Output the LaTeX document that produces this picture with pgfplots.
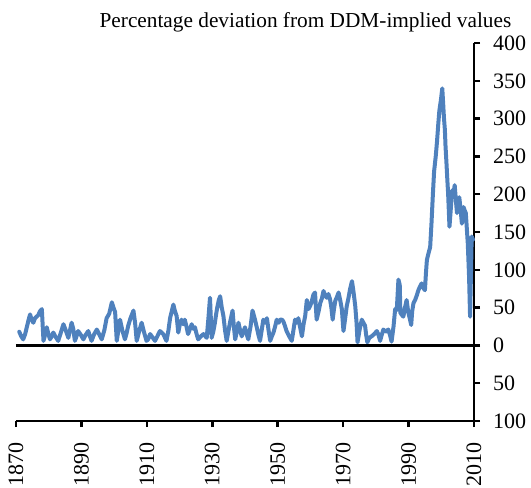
\documentclass[border=0pt]{standalone}
\usepackage{pgfplots}
\pgfplotsset{compat=1.18}
\usepackage{fontspec}
\setmainfont{Liberation Serif}
\definecolor{xlblue}{RGB}{79,129,189}
\pgfplotstableread{
year val
1871.0 18
1871.6 12
1872.2 8
1872.8 15
1873.3 24
1873.8 33
1874.3 41
1874.8 34
1875.3 30
1875.8 36
1876.3 38
1876.8 40
1877.3 45
1877.9 48
1878.4 6
1878.9 14
1879.4 24
1879.9 15
1880.4 8
1880.9 12
1881.4 17
1882.0 12
1882.9 6
1883.5 14
1884.5 28
1885.2 20
1886.0 10
1886.5 20
1887.0 30
1887.5 22
1888.0 6
1888.5 12
1889.0 19
1889.8 14
1890.6 8
1891.3 14
1892.1 19
1892.6 12
1893.1 6
1893.8 14
1894.7 21
1895.4 15
1896.2 8
1897.0 20
1897.7 36
1898.5 42
1899.3 57
1899.8 50
1900.3 44
1900.8 6
1901.3 20
1901.8 34
1902.5 20
1903.3 8
1903.8 16
1904.3 26
1905.0 36
1905.9 46
1906.4 30
1906.9 6
1907.6 18
1908.4 30
1909.1 18
1909.9 6
1910.4 8
1911.0 15
1911.5 12
1912.5 6
1913.2 12
1914.0 19
1915.0 15
1916.0 6
1916.6 20
1917.1 36
1917.6 45
1918.1 54
1918.6 45
1919.1 39
1919.6 17
1920.1 28
1920.6 34
1921.1 28
1921.6 34
1922.1 25
1922.6 15
1923.2 22
1923.7 28
1924.2 22
1924.7 24
1925.2 15
1925.7 8
1926.5 12
1927.3 15
1928.3 10
1928.8 35
1929.3 63
1929.8 10
1930.3 18
1930.8 30
1931.2 42
1931.6 52
1932.0 60
1932.4 65
1932.9 50
1933.4 39
1933.9 20
1934.4 6
1934.9 18
1935.4 30
1935.8 38
1936.2 46
1936.6 25
1937.0 8
1937.5 18
1938.0 30
1938.5 20
1939.0 12
1939.5 18
1940.0 24
1940.5 15
1941.0 8
1941.7 25
1942.3 46
1943.0 35
1943.6 24
1944.1 14
1944.6 6
1945.1 20
1945.6 34
1946.2 30
1946.7 36
1947.2 20
1947.7 6
1948.2 12
1948.7 17
1949.2 25
1949.7 34
1950.3 30
1950.7 34
1951.3 34
1951.7 32
1952.2 26
1952.7 19
1953.5 12
1954.3 6
1954.8 20
1955.3 34
1955.8 30
1956.3 36
1956.8 25
1957.4 12
1957.9 28
1958.4 39
1958.9 60
1959.4 48
1959.9 52
1960.4 58
1960.9 67
1961.4 70
1961.9 34
1962.5 45
1963.0 56
1963.5 62
1964.0 72
1964.5 66
1965.0 63
1965.5 68
1966.0 61
1966.4 50
1966.8 34
1967.2 48
1967.6 59
1968.1 64
1968.6 70
1969.1 60
1969.6 48
1970.1 19
1970.6 35
1971.1 52
1971.6 62
1972.1 74
1972.7 85
1973.2 70
1973.7 52
1974.1 30
1974.4 4
1975.0 20
1975.7 34
1976.2 30
1976.7 26
1977.0 15
1977.4 4
1978.0 10
1978.7 12
1979.5 15
1980.3 19
1980.8 14
1981.3 6
1981.8 14
1982.3 21
1983.0 18
1983.8 21
1984.3 14
1984.8 5
1985.4 25
1985.9 48
1986.4 47
1986.9 87
1987.3 80
1987.5 43
1988.0 40
1988.4 38
1988.9 50
1989.4 60
1989.9 44
1990.4 35
1990.8 27
1991.1 45
1991.5 56
1992.0 60
1992.5 66
1993.0 73
1993.5 78
1994.0 82
1994.5 76
1995.0 73
1995.3 95
1995.6 113
1996.1 122
1996.6 130
1997.0 161
1997.4 197
1997.8 230
1998.3 250
1998.7 270
1999.1 294
1999.4 310
1999.6 316
1999.9 325
2000.3 340
2000.6 318
2000.8 302
2001.1 285
2001.3 263
2001.6 240
2001.8 223
2002.1 200
2002.5 157
2002.9 180
2003.3 205
2003.7 200
2004.1 212
2004.5 190
2004.8 175
2005.2 190
2005.5 196
2005.9 180
2006.3 161
2006.8 183
2007.2 178
2007.5 175
2007.8 155
2008.1 135
2008.5 90
2008.8 38
2009.0 80
2009.3 144
2009.7 140
}\ddmdata
\begin{document}
\fontsize{21}{25}\selectfont
\begin{tikzpicture}
\begin{axis}[
  scale only axis, width=458pt, height=378pt,
  xmin=1870, xmax=2010, ymin=-100, ymax=400,
  axis x line*=bottom, axis y line*=right,
  axis line style={line width=2.5pt, -},
  xtick={1870,1890,...,2010},
  ytick={-100,-50,...,400},
  yticklabels={100,50,0,50,100,150,200,250,300,350,400},
  /pgf/number format/1000 sep={},
  /pgf/number format/assume math mode=true,
  xticklabel style={rotate=90, anchor=east},
  xticklabel shift=8pt,
  yticklabel shift=6pt,
  tick align=outside,
  major tick length=6pt,
  tick style={line width=2.5pt, black},
  ticklabel style={font=\fontsize{22}{26}\selectfont},
  clip=false,
]
\addplot[xlblue, line width=4pt, line join=round, line cap=round, no markers] table[x=year, y=val] {\ddmdata};
\addplot[black, line width=2.5pt, no markers] coordinates {(1870,0) (2010,0)};
\node[anchor=base, font=\fontsize{21.3}{25}\selectfont] at ([yshift=16pt]rel axis cs:0.632,1) {Percentage deviation from DDM-implied values};
\end{axis}
\pgfresetboundingbox
\path ([xshift=-16pt,yshift=-67pt]current axis.south west) rectangle ([xshift=57pt,yshift=43pt]current axis.north east);
\end{tikzpicture}
\end{document}
